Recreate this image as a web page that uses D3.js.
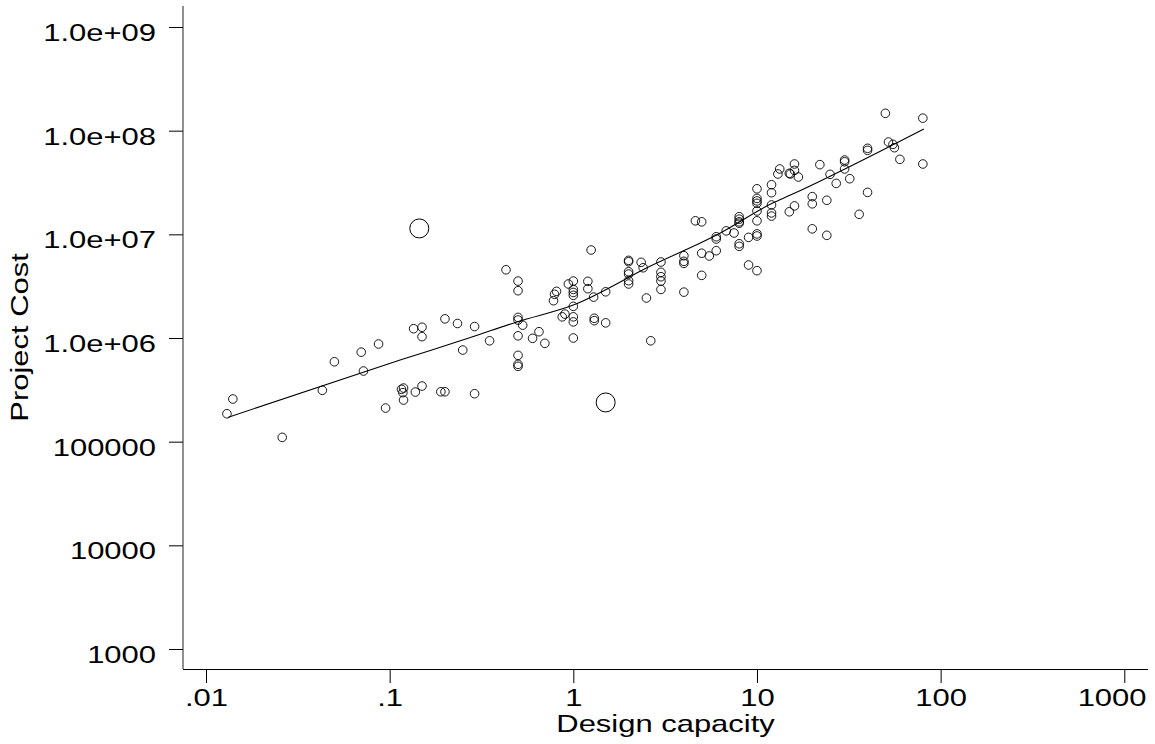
<!DOCTYPE html>
<html>
<head>
<meta charset="utf-8">
<script src="https://cdn.jsdelivr.net/npm/d3@7"></script>
<style>
    html, body { margin: 0; padding: 0; background: #ffffff; }
    svg { display: block; }
    text { font-family: "Liberation Sans", Arial, Helvetica, sans-serif; fill: #000000; }
</style>
</head>
<body>
<svg id="chart"></svg>
<script>
// design capacity / project cost, one entry per project
var capacity = [
    0.013, 0.014, 0.026, 0.043, 0.05, 0.07, 0.072, 0.087, 0.095, 0.116,
    0.119, 0.118, 0.119, 0.138, 0.15, 0.135, 0.15, 0.15,
    1.25, 0.43, 0.5, 0.5, 0.94, 1.0, 0.81, 0.79, 0.78, 1.0,
    1.0, 1.0, 1.2, 1.2, 1.29, 1.5, 1.0, 0.2, 0.234, 0.29,
    0.35, 0.25, 0.5, 0.5, 0.53, 0.5, 0.5, 0.5, 0.5, 0.6,
    0.65, 0.7, 0.87, 0.9, 1.0, 1.0, 1.0, 1.3, 1.3, 1.5,
    0.19, 0.2, 0.29,
    2.64, 2.5, 2.0, 2.0, 2.0, 2.0, 2.0, 2.0, 2.34, 2.4,
    3.0, 3.0, 3.0, 3.0, 3.0, 4.0, 4.0, 4.0, 4.0, 4.62,
    5.0, 5.0, 5.0, 5.5, 6.0, 6.0, 6.0, 6.8, 7.5, 8.0,
    8.0, 8.0, 8.0, 8.0, 8.0, 9.0, 9.0, 10, 10, 10,
    10, 10, 10, 10, 10, 10, 12, 12, 12, 12,
    12, 13.3, 13, 15, 15,
    50, 80, 80, 52, 55, 56, 60, 40, 40, 40,
    36, 30, 30, 30, 32, 27, 25, 22, 24, 24,
    20, 20, 20, 16, 16, 15.2, 16.8, 16
];
var cost = [
    1.86e5, 2.58e5, 1.10e5, 3.13e5, 5.9e5, 7.3e5, 4.8e5, 8.75e5, 2.11e5, 3.20e5,
    3.29e5, 2.97e5, 2.52e5, 3.01e5, 3.44e5, 1.23e6, 1.27e6, 1.03e6,
    7.06e6, 4.55e6, 3.54e6, 2.86e6, 3.32e6, 3.54e6, 2.82e6, 2.64e6, 2.29e6, 2.94e6,
    2.75e6, 2.58e6, 3.52e6, 2.99e6, 2.48e6, 2.79e6, 2.02e6, 1.53e6, 1.38e6, 1.29e6,
    9.4e5, 7.65e5, 1.58e6, 1.49e6, 1.33e6, 1.05e6, 6.8e5, 5.57e5, 5.33e5, 9.93e5,
    1.15e6, 8.88e5, 1.60e6, 1.70e6, 1.60e6, 1.43e6, 1.0e6, 1.55e6, 1.47e6, 1.40e6,
    3.03e5, 3.03e5, 2.90e5,
    9.4e5, 2.43e6, 5.61e6, 5.44e6, 4.36e6, 4.14e6, 3.57e6, 3.32e6, 5.37e6, 4.76e6,
    5.41e6, 4.30e6, 3.90e6, 3.54e6, 2.94e6, 6.22e6, 5.49e6, 5.25e6, 2.77e6, 1.35e7,
    1.32e7, 6.57e6, 4.02e6, 6.18e6, 6.95e6, 9.48e6, 9.01e6, 1.08e7, 1.03e7, 1.48e7,
    1.40e7, 1.32e7, 1.28e7, 8.11e6, 7.66e6, 9.35e6, 5.06e6, 2.75e7, 2.22e7, 2.10e7,
    1.99e7, 1.68e7, 1.35e7, 1.01e7, 9.64e6, 4.46e6, 3.01e7, 2.52e7, 1.92e7, 1.61e7,
    1.50e7, 4.27e7, 3.82e7, 3.88e7, 1.65e7,
    1.47e8, 1.32e8, 4.77e7, 7.77e7, 7.38e7, 6.85e7, 5.29e7, 6.76e7, 6.46e7, 2.54e7,
    1.56e7, 5.21e7, 5.01e7, 4.27e7, 3.44e7, 3.10e7, 3.79e7, 4.70e7, 2.13e7, 9.78e6,
    2.31e7, 1.97e7, 1.13e7, 4.77e7, 4.14e7, 3.82e7, 3.57e7, 1.88e7
];

// the two heavily weighted projects (drawn with larger markers)
var heavyCapacity = [0.145, 1.5];
var heavyCost = [1.14e7, 2.39e5];

// smoothed fit
var fitCapacity = [0.0132, 0.114, 0.275, 0.497, 1.0, 2.63, 6.02, 12.1, 15.2, 81];
var fitCost = [1.72e5, 6.13e5, 1.01e6, 1.435e6, 2.08e6, 4.94e6, 9.84e6, 1.99e7, 2.39e7, 1.04e8];

var xTicks = [0.01, 0.1, 1, 10, 100, 1000];
var xTickLabels = ['.01', '.1', '1', '10', '100', '1000'];
var yTicks = [1e3, 1e4, 1e5, 1e6, 1e7, 1e8, 1e9];
var yTickLabels = ['1000', '10000', '100000', '1.0e+06', '1.0e+07', '1.0e+08', '1.0e+09'];

var xTitle = 'Design capacity';
var yTitle = 'Project Cost';

function CostChart(selector, config) {
    this.init(selector, config);
}

CostChart.prototype = {
    init: function (selector, options) {
        var config = Object.assign({
            width: 1155,
            height: 744,
            left: 183,
            right: 1148,
            top: 6,
            bottom: 669,
            xRange: [206, 1124.3],
            yRange: [649, 27],
            tickSize: 14,
            fontSize: 24,
            stretch: 1.29,
            markerRadius: 4.3,
            heavyRadius: 9.5
        }, options);

        var svg = d3.select(selector)
            .attr('width', config.width)
            .attr('height', config.height);

        svg.append('rect')
            .attr('width', config.width)
            .attr('height', config.height)
            .attr('fill', '#ffffff');

        config.x = d3.scaleLog().domain([xTicks[0], xTicks[xTicks.length - 1]]).range(config.xRange);
        config.y = d3.scaleLog().domain([yTicks[0], yTicks[yTicks.length - 1]]).range(config.yRange);

        this.__drawAxes(svg, config);
        this.__drawPoints(svg, config);
        this.__drawFit(svg, config);
        this.__drawTitles(svg, config);
    },
    /**
     * Axis lines, ticks and tick labels (log scales on both sides)
     */
    __drawAxes: function (svg, config) {
        var stretch = 'scale(' + config.stretch + ',1)';

        var yAxis = svg.append('g')
            .attr('class', 'y-axis')
            .attr('transform', 'translate(' + config.left + ',0)')
            .call(d3.axisLeft(config.y)
                .tickValues(yTicks)
                .tickSize(config.tickSize)
                .tickFormat(function (d, i) {
                    return yTickLabels[i];
                }));

        yAxis.select('.domain').remove();
        yAxis.selectAll('line').attr('stroke', '#000000');
        yAxis.selectAll('text')
            .attr('x', 0)
            .attr('y', 0)
            .attr('dy', null)
            .attr('text-anchor', 'end')
            .style('font-size', config.fontSize + 'px')
            .style('font-family', null)
            .attr('transform', 'translate(' + (-config.tickSize - 13) + ',13.5) ' + stretch);

        var xAxis = svg.append('g')
            .attr('class', 'x-axis')
            .attr('transform', 'translate(0,' + config.bottom + ')')
            .call(d3.axisBottom(config.x)
                .tickValues(xTicks)
                .tickSize(config.tickSize)
                .tickFormat(function (d, i) {
                    return xTickLabels[i];
                }));

        xAxis.select('.domain').remove();
        xAxis.selectAll('line').attr('stroke', '#000000');
        xAxis.selectAll('text')
            .attr('x', 0)
            .attr('y', 0)
            .attr('dy', null)
            .attr('text-anchor', 'middle')
            .style('font-size', config.fontSize + 'px')
            .style('font-family', null)
            .attr('transform', function (d) {
                // keep the last label inside the page, as the original does
                var half = this.getComputedTextLength() * config.stretch / 2;
                var over = Math.max(0, config.x(d) + half - (config.width - 9));
                return 'translate(' + (-over) + ',37) ' + stretch;
            });

        svg.append('line')
            .attr('x1', config.left)
            .attr('x2', config.left)
            .attr('y1', config.top)
            .attr('y2', config.bottom)
            .style('stroke', '#222222')
            .style('stroke-width', 1);

        svg.append('line')
            .attr('x1', config.left)
            .attr('x2', config.right)
            .attr('y1', config.bottom + 0.5)
            .attr('y2', config.bottom + 0.5)
            .style('stroke', '#000000')
            .style('stroke-width', 1.2);
    },
    /**
     * Hollow circle markers
     */
    __drawPoints: function (svg, config) {
        var points = svg.append('g').attr('class', 'points');

        points.selectAll('.point')
            .data(d3.range(capacity.length))
            .enter()
            .append('circle')
            .attr('class', 'point')
            .attr('cx', function (i) { return config.x(capacity[i]); })
            .attr('cy', function (i) { return config.y(cost[i]); })
            .attr('r', config.markerRadius)
            .style('fill', 'none')
            .style('stroke', '#000000')
            .style('stroke-width', 0.9);

        points.selectAll('.heavy')
            .data(d3.range(heavyCapacity.length))
            .enter()
            .append('circle')
            .attr('class', 'heavy')
            .attr('cx', function (i) { return config.x(heavyCapacity[i]); })
            .attr('cy', function (i) { return config.y(heavyCost[i]); })
            .attr('r', config.heavyRadius)
            .style('fill', 'none')
            .style('stroke', '#000000')
            .style('stroke-width', 1);
    },
    /**
     * Fitted curve
     */
    __drawFit: function (svg, config) {
        var line = d3.line()
            .x(function (i) { return config.x(fitCapacity[i]); })
            .y(function (i) { return config.y(fitCost[i]); })
            .curve(d3.curveMonotoneX);

        svg.append('path')
            .attr('class', 'fit')
            .attr('d', line(d3.range(fitCapacity.length)))
            .style('fill', 'none')
            .style('stroke', '#000000')
            .style('stroke-width', 1.1);
    },
    /**
     * Axis titles
     */
    __drawTitles: function (svg, config) {
        var stretch = 'scale(' + config.stretch + ',1)';

        svg.append('text')
            .attr('class', 'x-title')
            .attr('text-anchor', 'middle')
            .style('font-size', config.fontSize + 'px')
            .attr('transform', 'translate(' + ((config.left + config.right) / 2) + ',732) ' + stretch)
            .text(xTitle);

        svg.append('text')
            .attr('class', 'y-title')
            .attr('text-anchor', 'middle')
            .style('font-size', config.fontSize + 'px')
            .attr('transform', 'translate(28.3,' + ((config.top + config.bottom) / 2) + ') rotate(-90) ' + stretch)
            .text(yTitle);
    }
};

new CostChart('#chart');
</script>
</body>
</html>
